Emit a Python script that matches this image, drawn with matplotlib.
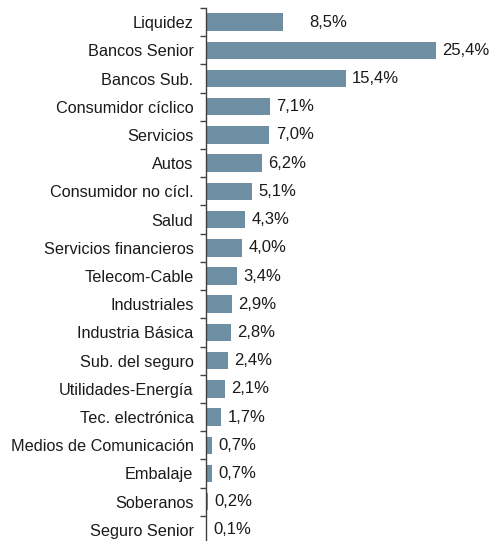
import matplotlib.pyplot as plt
import numpy as np

plt.rcParams['font.family'] = ['Liberation Sans', 'DejaVu Sans']

categorias = ['Liquidez', 'Bancos Senior', 'Bancos Sub.', 'Consumidor cíclico',
              'Servicios', 'Autos', 'Consumidor no cícl.', 'Salud',
              'Servicios financieros', 'Telecom-Cable', 'Industriales',
              'Industria Básica', 'Sub. del seguro', 'Utilidades-Energía',
              'Tec. electrónica', 'Medios de Comunicación', 'Embalaje',
              'Soberanos', 'Seguro Senior']
pesos = [8.5, 25.4, 15.4, 7.1, 7.0, 6.2, 5.1, 4.3, 4.0, 3.4, 2.9, 2.8,
         2.4, 2.1, 1.7, 0.7, 0.7, 0.2, 0.1]

color_barra = '#6E8FA3'

fig = plt.figure(figsize=(4.92, 5.41), dpi=100)
ax = fig.add_axes([206 / 492, -3 / 541, 264 / 492, 536 / 541])

y = np.arange(len(categorias))
ax.barh(y, pesos, height=0.62, color=color_barra)

# etiquetas de valor a la derecha de cada barra
for i, v in enumerate(pesos):
    desp = 19 if i == 0 else 4.5
    ax.annotate(f'{v:.1f}%'.replace('.', ','), (v, i), xytext=(desp, 0),
                textcoords='offset points', va='center', ha='left',
                fontsize=12, color='#1a1a1a', annotation_clip=False)

ax.set_ylim(len(categorias) - 0.5, -0.5)
ax.set_xlim(0, 264 / 9.06)

ax.set_yticks(y)
ax.set_yticklabels(categorias, fontsize=11.7, color='#1a1a1a')
ax.set_yticks(np.arange(-0.5, len(categorias), 1), minor=True)
ax.tick_params(axis='y', which='major', length=0, pad=9)
ax.tick_params(axis='y', which='minor', length=4, width=1, color='#404040')
ax.set_xticks([])

for s in ['top', 'right', 'bottom']:
    ax.spines[s].set_visible(False)
ax.spines['left'].set_color('#404040')
ax.spines['left'].set_linewidth(1)

fig.savefig('out.png', dpi=100)
